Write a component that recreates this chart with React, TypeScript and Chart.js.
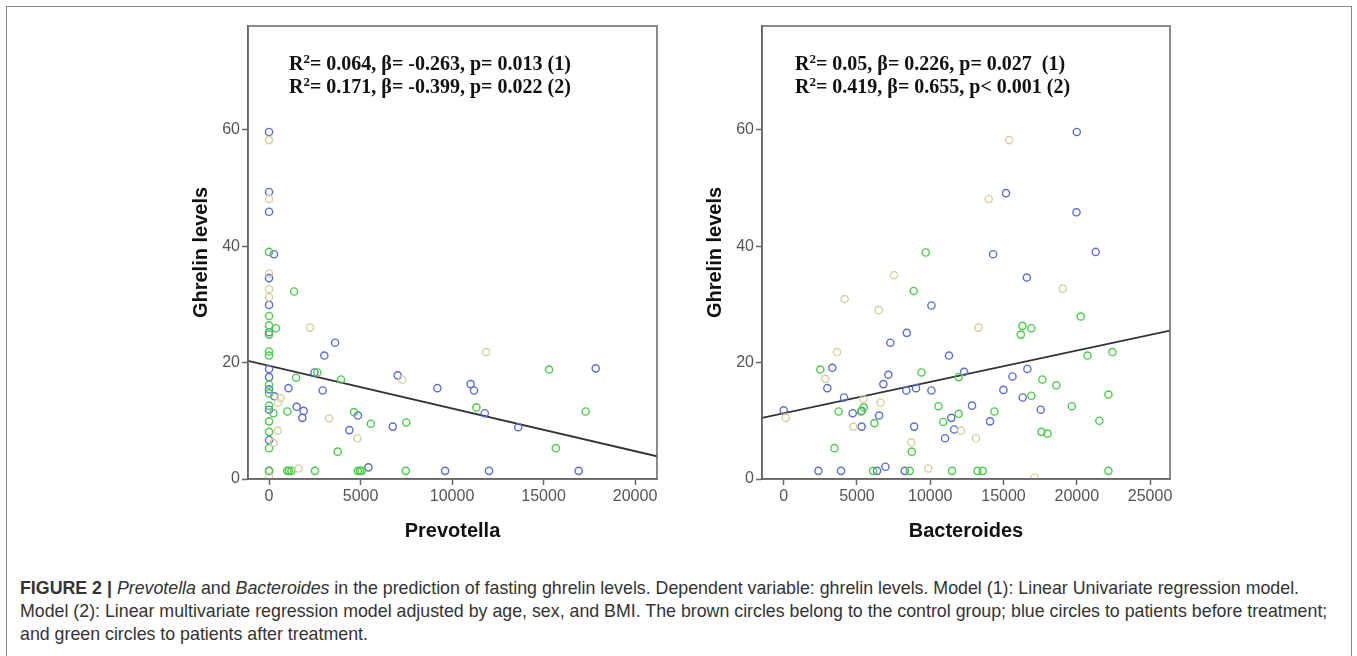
import React, { useEffect, useRef } from "react";
import { Chart, registerables } from "chart.js";

Chart.register(...registerables);

// ---------- data ----------
const yTicks = [0, 20, 40, 60];
const yRange = [0, 77.8];

const prevotellaTicks = [0, 5000, 10000, 15000, 20000];
const prevotellaRange = [-1150, 21200];
const bacteroidesTicks = [0, 5000, 10000, 15000, 20000, 25000];
const bacteroidesRange = [-1480, 26360];

// blue: patients before treatment
const prevotellaBefore: [number, number][] = [
  [0, 59.6], [0, 49.3], [0, 45.9], [270, 38.6], [0, 34.5], [0, 29.9], [0, 25.2], [0, 18.9],
  [0, 17.5], [0, 15.4], [290, 14.2], [0, 11.9], [0, 6.7], [0, 1.4], [1060, 15.6], [1510, 12.4],
  [1890, 11.7], [1820, 10.5], [2480, 18.3], [2930, 15.2], [3020, 21.2], [3610, 23.4], [4390, 8.4],
  [4860, 10.9], [5430, 2.0], [6760, 9.0], [7030, 17.8], [9200, 15.6], [9620, 1.4], [11020, 16.3],
  [11200, 15.2], [11790, 11.3], [12020, 1.4], [13620, 8.9], [16920, 1.4], [17850, 19.0],
];
// green: patients after treatment
const prevotellaAfter: [number, number][] = [
  [0, 39.0], [1370, 32.2], [380, 25.9], [0, 28.0], [0, 26.4], [0, 24.8], [0, 21.9], [0, 21.2],
  [0, 16.2], [0, 14.7], [0, 12.6], [0, 9.9], [0, 8.1], [0, 5.3], [0, 1.4], [240, 11.3],
  [1000, 11.6], [1480, 17.4], [2640, 18.3], [3930, 17.1], [4640, 11.5], [5560, 9.5], [7500, 9.7],
  [3750, 4.7], [11330, 12.3], [15300, 18.8], [17300, 11.6], [15670, 5.3], [1000, 1.4], [1090, 1.4],
  [1220, 1.4], [2510, 1.4], [4850, 1.4], [4970, 1.4], [5060, 1.4], [7470, 1.4],
];
// brown: control group
const prevotellaControl: [number, number][] = [
  [0, 58.2], [0, 48.1], [0, 35.3], [0, 32.6], [0, 31.2], [2240, 26.0], [11860, 21.8], [7270, 17.1],
  [620, 13.9], [490, 13.1], [3280, 10.4], [480, 8.3], [240, 6.2], [4830, 7.0], [1610, 1.8], [0, 0.4],
];
const prevotellaFit: [number, number][] = [[-1150, 20.3], [21200, 3.9]];

const bacteroidesBefore: [number, number][] = [
  [0, 11.8], [3320, 19.1], [2980, 15.6], [4120, 14.0], [4710, 11.3], [5320, 11.7], [5320, 9.0],
  [6510, 10.9], [6800, 16.3], [7140, 17.9], [7280, 23.4], [8400, 25.1], [8370, 15.2], [9030, 15.6],
  [8900, 9.0], [10080, 29.8], [10080, 15.2], [11280, 21.2], [12310, 18.4], [11440, 10.5],
  [11630, 8.5], [11010, 7.0], [12850, 12.6], [14080, 9.9], [14290, 38.6], [15170, 49.1],
  [14990, 15.3], [15610, 17.6], [16590, 34.6], [16630, 18.9], [16310, 14.0], [17540, 11.9],
  [20000, 59.6], [19980, 45.8], [21290, 39.0], [2370, 1.4], [3910, 1.4], [6370, 1.4], [6940, 2.1],
  [8260, 1.4],
];
const bacteroidesAfter: [number, number][] = [
  [2500, 18.8], [3750, 11.6], [3460, 5.3], [5280, 11.6], [5460, 12.3], [6190, 9.6], [8870, 32.3],
  [9690, 38.9], [9400, 18.3], [8740, 4.7], [10560, 12.5], [10880, 9.8], [11940, 17.5], [11940, 11.2],
  [14380, 11.6], [16180, 24.8], [16290, 26.3], [16900, 25.9], [16900, 14.3], [17650, 17.1],
  [17590, 8.1], [18000, 7.8], [18610, 16.1], [19660, 12.5], [20270, 27.9], [20730, 21.2],
  [21540, 10.0], [22160, 14.5], [22430, 21.8], [6100, 1.4], [8600, 1.4], [11490, 1.4], [13220, 1.4],
  [13580, 1.4], [22160, 1.4],
];
const bacteroidesControl: [number, number][] = [
  [140, 10.5], [2840, 17.2], [3640, 21.8], [4160, 30.9], [4750, 9.0], [5440, 13.7], [6480, 29.0],
  [6600, 13.1], [7530, 35.0], [8710, 6.3], [9860, 1.8], [12100, 8.3], [13120, 7.0], [13290, 26.0],
  [13990, 48.1], [15380, 58.2], [19040, 32.7], [17130, 0.3],
];
const bacteroidesFit: [number, number][] = [[-1480, 10.5], [26360, 25.5]];

const prevotellaStats = ["0.064, β= -0.263, p= 0.013 (1)", "0.171, β= -0.399, p= 0.022 (2)"];
const bacteroidesStats = ["0.05, β= 0.226, p= 0.027  (1)", "0.419, β= 0.655, p< 0.001 (2)"];

// ---------- styles ----------
const BLUE = "#5d6fcc";
const GREEN = "#4ccb4c";
const TAN = "#d8cf9f";
const AXIS = "#666";
const SANS = "'Liberation Sans', Arial, Helvetica, sans-serif";
const SERIF = "'Liberation Serif', 'Times New Roman', serif";

const framePlugin = {
  id: "frame",
  afterDraw(chart: any) {
    const { ctx, chartArea: a } = chart;
    ctx.save();
    ctx.strokeStyle = AXIS;
    ctx.lineWidth = 1.5;
    ctx.strokeRect(a.left, a.top, a.right - a.left, a.bottom - a.top);
    ctx.restore();
  },
};

type Props = {
  left: number;
  width: number;
  padRight: number;
  xTitle: string;
  xRange: number[];
  xTicks: number[];
  before: [number, number][];
  after: [number, number][];
  control: [number, number][];
  fit: [number, number][];
};

function ScatterPanel(p: Props) {
  const ref = useRef<HTMLCanvasElement>(null);
  useEffect(() => {
    const pts = (arr: [number, number][]) => arr.map(([x, y]) => ({ x, y }));
    const circle = (data: [number, number][], color: string) => ({
      type: "scatter" as const,
      data: pts(data),
      pointStyle: "circle",
      pointRadius: 3.6,
      pointBorderWidth: 1.4,
      borderColor: color,
      backgroundColor: "rgba(0,0,0,0)",
      pointBackgroundColor: "rgba(0,0,0,0)",
      pointBorderColor: color,
    });
    const chart = new Chart(ref.current as HTMLCanvasElement, {
      type: "scatter",
      data: {
        datasets: [
          circle(p.control, TAN),
          circle(p.after, GREEN),
          circle(p.before, BLUE),
          {
            type: "line" as const,
            data: pts(p.fit),
            borderColor: "#333",
            borderWidth: 1.8,
            pointRadius: 0,
            fill: false,
          } as any,
        ],
      },
      options: {
        animation: false,
        responsive: false,
        maintainAspectRatio: false,
        layout: { padding: { top: 26, right: p.padRight, left: 0, bottom: 0 } },
        plugins: { legend: { display: false }, tooltip: { enabled: false }, title: { display: false } },
        scales: {
          x: {
            type: "linear",
            bounds: "data",
            min: p.xRange[0],
            max: p.xRange[1],
            afterBuildTicks: (s: any) => {
              s.ticks = p.xTicks.map((v) => ({ value: v }));
            },
            afterFit: (s: any) => {
              s.height = 81;
            },
            grid: { drawOnChartArea: false, tickLength: 6, tickColor: AXIS, tickWidth: 1.5 },
            border: { color: AXIS, width: 1.5 },
            ticks: {
              color: "#555",
              font: { family: SANS, size: 16 },
              padding: 2,
              maxRotation: 0,
              autoSkip: false,
              callback: (v: any) => String(v),
            },
            title: {
              display: true,
              text: p.xTitle,
              color: "#111",
              font: { family: SANS, size: 20, weight: "bold" },
              padding: { top: 0, bottom: 17 },
            },
          },
          y: {
            type: "linear",
            bounds: "data",
            min: yRange[0],
            max: yRange[1],
            afterBuildTicks: (s: any) => {
              s.ticks = yTicks.map((v) => ({ value: v }));
            },
            afterFit: (s: any) => {
              s.width = 72;
            },
            grid: { drawOnChartArea: false, tickLength: 6, tickColor: AXIS, tickWidth: 1.5 },
            border: { color: AXIS, width: 1.5 },
            ticks: {
              color: "#555",
              font: { family: SANS, size: 16 },
              padding: 2,
              autoSkip: false,
              callback: (v: any) => String(v),
            },
            title: {
              display: true,
              text: "Ghrelin levels",
              color: "#111",
              font: { family: SANS, size: 20, weight: "bold" },
              padding: { top: 13, bottom: 0 },
            },
          },
        },
      } as any,
      plugins: [framePlugin],
    });
    return () => chart.destroy();
  }, []);
  return (
    <canvas
      ref={ref}
      width={p.width}
      height={560}
      style={{ position: "absolute", left: p.left, top: 0, width: p.width, height: 560 }}
    />
  );
}

function Stats({ left, lines }: { left: number; lines: string[] }) {
  return (
    <div
      style={{
        position: "absolute",
        left,
        top: 52,
        fontFamily: SERIF,
        fontWeight: "bold",
        fontSize: 20,
        lineHeight: "23px",
        color: "#111",
        whiteSpace: "pre",
      }}
    >
      {lines.map((l, i) => (
        <div key={i}>
          R<sup style={{ fontSize: 13, verticalAlign: "7px", lineHeight: 0 }}>2</sup>= {l}
        </div>
      ))}
    </div>
  );
}

export default function App() {
  useEffect(() => {
    document.body.style.margin = "0";
  }, []);
  return (
    <div style={{ position: "relative", width: 1357, height: 656, overflow: "hidden", background: "#fff" }}>
      <div
        style={{
          position: "absolute",
          left: 6,
          top: 6,
          width: 1346,
          height: 700,
          border: "1.5px solid #888",
          boxSizing: "border-box",
        }}
      />
      <ScatterPanel
        left={176}
        width={504}
        padRight={23}
        xTitle="Prevotella"
        xRange={prevotellaRange}
        xTicks={prevotellaTicks}
        before={prevotellaBefore}
        after={prevotellaAfter}
        control={prevotellaControl}
        fit={prevotellaFit}
      />
      <ScatterPanel
        left={690}
        width={505}
        padRight={25}
        xTitle="Bacteroides"
        xRange={bacteroidesRange}
        xTicks={bacteroidesTicks}
        before={bacteroidesBefore}
        after={bacteroidesAfter}
        control={bacteroidesControl}
        fit={bacteroidesFit}
      />
      <Stats left={289} lines={prevotellaStats} />
      <Stats left={795} lines={bacteroidesStats} />
      <div
        style={{
          position: "absolute",
          left: 20,
          top: 577,
          fontFamily: SANS,
          fontSize: 17.8,
          lineHeight: "23px",
          color: "#333",
          whiteSpace: "nowrap",
        }}
      >
        <div>
          <b>FIGURE 2 |</b> <i>Prevotella</i> and <i>Bacteroides</i> in the prediction of fasting ghrelin levels.
          Dependent variable: ghrelin levels. Model (1): Linear Univariate regression model.
        </div>
        <div>
          Model (2): Linear multivariate regression model adjusted by age, sex, and BMI. The brown circles belong to
          the control group; blue circles to patients before treatment;
        </div>
        <div>and green circles to patients after treatment.</div>
      </div>
    </div>
  );
}
